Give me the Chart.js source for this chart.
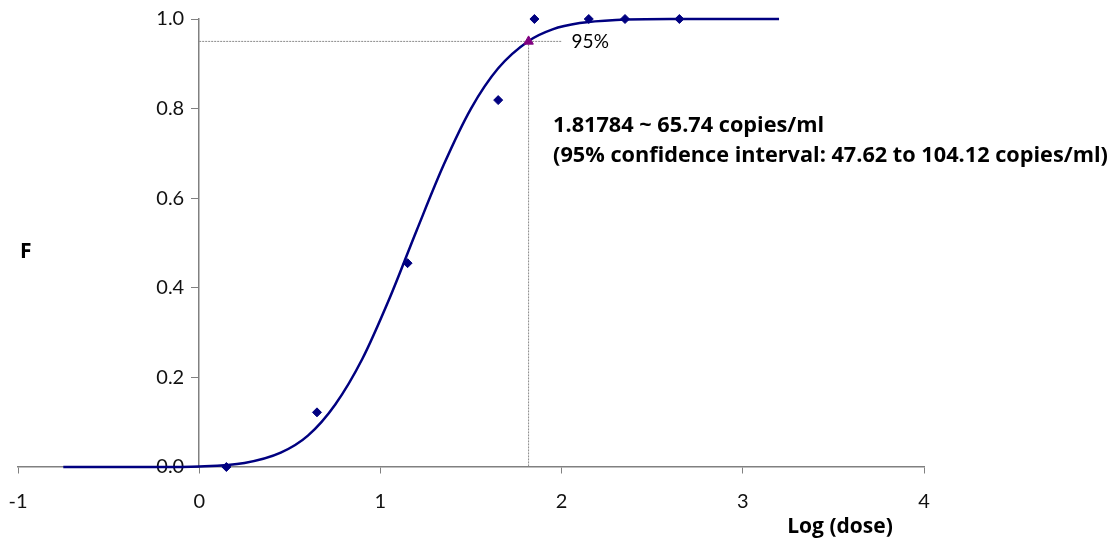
<!DOCTYPE html>
<html>
<head>
<meta charset="utf-8">
<style>
  body { margin: 0; background: #fff; }
  canvas { display: block; }
</style>
<script src="https://cdn.jsdelivr.net/npm/chart.js@4.4.1/dist/chart.umd.min.js"></script>
</head>
<body>
<canvas id="probitChart" width="1113" height="542"></canvas>
<script>
// observed hit rates per log(dose)
const obsLogDose = [0.15, 0.65, 1.15, 1.65, 1.85, 2.15, 2.35, 2.65];
const obsFraction = [0.0, 0.122, 0.455, 0.819, 1.0, 1.0, 1.0, 1.0];

// fitted probit curve
const fitLogDose = [-0.75, -0.25, 0, 0.25, 0.45, 0.6, 0.75, 0.9, 1.05, 1.2, 1.35, 1.5, 1.65, 1.818, 1.95, 2.1, 2.3, 2.6, 3.2];
const fitFraction = [0, 0.0001, 0.0013, 0.009, 0.032, 0.070, 0.139, 0.241, 0.376, 0.528, 0.675, 0.800, 0.890, 0.951, 0.977, 0.991, 0.998, 1.0, 1.0];

// 95% hit point
const lod95 = 1.81784;
const lodLevel = 0.95;
const lodLineEnd = 2.0;

const xTicks = [-1, 0, 1, 2, 3, 4];
const yTicks = [0, 0.2, 0.4, 0.6, 0.8, 1.0];

const lodText = ['1.81784 ~ 65.74 copies/ml', '(95% confidence interval: 47.62 to 104.12 copies/ml)'];

const toXY = (xs, ys) => xs.map((x, i) => ({ x: x, y: ys[i] }));

// keep the axes from pushing the plot area around
const noPad = (scale) => {
    scale.paddingLeft = 0;
    scale.paddingRight = 0;
    scale.paddingTop = 0;
    scale.paddingBottom = 0;
};

const textPlugin = {
    id: 'labels',
    afterDraw(chart) {
        const ctx = chart.ctx;
        const xs = chart.scales.x;
        const ys = chart.scales.y;
        ctx.save();
        ctx.fillStyle = '#000';
        ctx.textBaseline = 'middle';
        ctx.textAlign = 'left';

        ctx.font = '19px Lato';
        ctx.fillText('95%', xs.getPixelForValue(lodLineEnd) + 10, ys.getPixelForValue(lodLevel));

        ctx.font = 'bold 21.7px "Open Sans"';
        const tx = xs.getPixelForValue(1.953);
        ctx.fillText(lodText[0], tx, ys.getPixelForValue(0.762));
        ctx.fillText(lodText[1], tx, ys.getPixelForValue(0.694));

        ctx.font = 'bold 21px "Open Sans"';
        ctx.fillText('F', 20, 252);
        ctx.textAlign = 'center';
        ctx.fillText('Log (dose)', 840, 527);
        ctx.restore();
    }
};

const ctx = document.getElementById('probitChart').getContext('2d');
new Chart(ctx, {
    type: 'scatter',
    data: {
        datasets: [
            {
                label: '95%',
                data: [{ x: lod95, y: lodLevel }],
                pointStyle: 'triangle',
                pointRadius: 5.5,
                backgroundColor: '#800080',
                borderColor: '#800080',
                clip: false
            },
            {
                label: 'Observed',
                data: toXY(obsLogDose, obsFraction),
                pointStyle: 'rectRot',
                pointRadius: 4.5,
                backgroundColor: '#000080',
                borderColor: '#000080',
                clip: false
            },
            {
                label: 'Probit fit',
                type: 'line',
                data: toXY(fitLogDose, fitFraction),
                borderColor: '#000080',
                borderWidth: 2.5,
                pointRadius: 0,
                cubicInterpolationMode: 'monotone',
                fill: false,
                clip: false
            },
            {
                label: 'h',
                type: 'line',
                data: [{ x: 0, y: lodLevel }, { x: lodLineEnd, y: lodLevel }],
                borderColor: '#8a8a8a',
                borderWidth: 1,
                borderDash: [2, 1],
                pointRadius: 0
            },
            {
                label: 'v',
                type: 'line',
                data: [{ x: lod95, y: lodLevel }, { x: lod95, y: 0 }],
                borderColor: '#8a8a8a',
                borderWidth: 1,
                borderDash: [2, 1],
                pointRadius: 0
            }
        ]
    },
    options: {
        responsive: false,
        animation: false,
        layout: { padding: { left: 18, right: 189, top: 19, bottom: 75 } },
        plugins: {
            legend: { display: false },
            tooltip: { enabled: false }
        },
        scales: {
            x: {
                type: 'linear',
                position: { y: 0 },
                min: -1,
                max: 4,
                afterFit: noPad,
                afterBuildTicks: (axis) => { axis.ticks = xTicks.map(v => ({ value: v })); },
                grid: { drawOnChartArea: false, tickLength: 6, color: '#808080' },
                border: { color: '#808080', width: 1.5 },
                ticks: {
                    color: '#111',
                    font: { family: 'Lato', size: 20 },
                    padding: 17,
                    maxRotation: 0
                }
            },
            y: {
                type: 'linear',
                position: { x: 0 },
                min: 0,
                max: 1,
                afterFit: noPad,
                afterBuildTicks: (axis) => { axis.ticks = yTicks.map(v => ({ value: v })); },
                grid: { drawOnChartArea: false, tickLength: 7, color: '#808080' },
                border: { color: '#808080', width: 1.5 },
                ticks: {
                    color: '#111',
                    font: { family: 'Lato', size: 20 },
                    // labels sit on the axis when it is placed at x = 0, so pad them with spaces
                    callback: (v) => v.toFixed(1) + '\u2002\u2005'
                }
            }
        }
    },
    plugins: [textPlugin]
});
</script>
</body>
</html>
